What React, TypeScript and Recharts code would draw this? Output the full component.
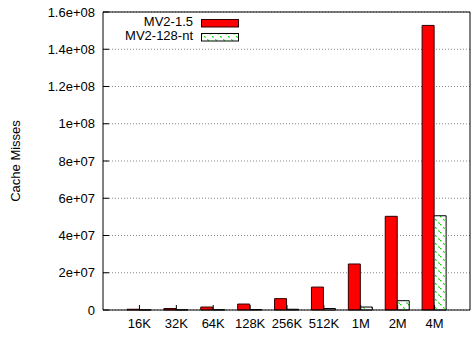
import { Bar, BarChart, CartesianGrid, Legend, XAxis, YAxis } from "recharts";

const FONT = '"Liberation Sans", Arial, Helvetica, sans-serif';

const categories = ["16K", "32K", "64K", "128K", "256K", "512K", "1M", "2M", "4M"];
const mv215 = [400000, 800000, 1600000, 3200000, 6100000, 12300000, 24700000, 50300000, 152800000];
const mv2128nt = [60000, 100000, 150000, 250000, 400000, 800000, 1600000, 5000000, 50600000];
const yTicks = [0, 2e7, 4e7, 6e7, 8e7, 1e8, 1.2e8, 1.4e8, 1.6e8];

const data = categories.map((name, i) => ({
  name,
  mv215: mv215[i],
  mv2128nt: mv2128nt[i],
}));

// gnuplot style: 1.6e+08, 2e+07
const fmt = (v: number) => {
  if (v === 0) return "0";
  const [m, e] = v.toExponential().split("e");
  const n = parseInt(e, 10);
  return `${m}e${n < 0 ? "-" : "+"}${String(Math.abs(n)).padStart(2, "0")}`;
};

const legendItems = [
  { label: "MV2-1.5", fill: "#ff0000", stroke: "#300000" },
  { label: "MV2-128-nt", fill: "url(#hatch)", stroke: "#000" },
];

const LegendBox = () => (
  <div style={{ fontFamily: FONT, fontSize: 13, lineHeight: "14px", color: "#000" }}>
    {legendItems.map((it) => (
      <div
        key={it.label}
        style={{ display: "flex", justifyContent: "flex-end", alignItems: "flex-start", height: 14 }}
      >
        <span>{it.label}</span>
        <svg width={38} height={9} style={{ marginLeft: 8, marginTop: 4 }}>
          <rect x={0.5} y={0.5} width={37} height={7.5} fill={it.fill} stroke={it.stroke} />
        </svg>
      </div>
    ))}
  </div>
);

const YLabel = (props: any) => {
  const vb = props.viewBox;
  const cy = vb.y + vb.height / 2;
  return (
    <text
      x={20}
      y={cy}
      transform={`rotate(-90, 20, ${cy})`}
      textAnchor="middle"
      fontFamily={FONT}
      fontSize={13}
      fill="#000"
    >
      Cache Misses
    </text>
  );
};

export default function App() {
  const tickStyle = { fontFamily: FONT, fontSize: 13, fill: "#000" };
  return (
    <div style={{ position: "absolute", left: 0, top: 0 }}>
      <BarChart
        width={471}
        height={339}
        data={data}
        margin={{ top: 11, right: 0, bottom: 0, left: 0 }}
        barGap={0}
        barSize={12}
      >
        <defs>
          <pattern id="hatch" patternUnits="userSpaceOnUse" width={8} height={8}>
            <rect width={8} height={8} fill="#fff" />
            <line x1={0} y1={0} x2={8} y2={8} stroke="#00dd00" strokeWidth={1.2} strokeDasharray="2 2.5" />
          </pattern>
        </defs>
        <CartesianGrid vertical={false} stroke="#888" strokeDasharray="1 2" />
        <XAxis
          dataKey="name"
          height={29}
          padding={{ left: 18, right: 17 }}
          tick={tickStyle}
          tickSize={-5}
          tickMargin={14}
          tickLine={{ stroke: "#000" }}
          axisLine={{ stroke: "#000" }}
          interval={0}
        />
        <XAxis
          xAxisId="top"
          dataKey="name"
          orientation="top"
          height={1}
          padding={{ left: 18, right: 17 }}
          tick={false}
          tickSize={-5}
          tickLine={{ stroke: "#000" }}
          axisLine={{ stroke: "#000" }}
          interval={0}
        />
        <YAxis
          width={103}
          domain={[0, 1.6e8]}
          ticks={yTicks}
          tickFormatter={fmt}
          tick={tickStyle}
          tickSize={-6}
          tickMargin={14}
          tickLine={{ stroke: "#000" }}
          axisLine={{ stroke: "#000" }}
          interval={0}
          label={<YLabel />}
        />
        <YAxis
          yAxisId="right"
          orientation="right"
          width={1}
          domain={[0, 1.6e8]}
          ticks={yTicks}
          tick={false}
          tickSize={-6}
          tickLine={{ stroke: "#000" }}
          axisLine={{ stroke: "#000" }}
          interval={0}
        />
        <Legend
          layout="vertical"
          align="center"
          verticalAlign="middle"
          wrapperStyle={{ top: 15, left: 100, width: 139 }}
          content={<LegendBox />}
        />
        <Bar dataKey="mv215" fill="#ff0000" stroke="#300000" strokeWidth={1} isAnimationActive={false} />
        <Bar dataKey="mv2128nt" fill="url(#hatch)" stroke="#000" strokeWidth={1} isAnimationActive={false} />
      </BarChart>
    </div>
  );
}
